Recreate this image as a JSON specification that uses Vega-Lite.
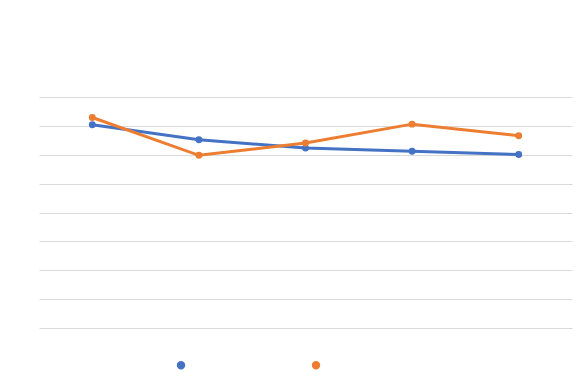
{
  "$schema": "https://vega.github.io/schema/vega-lite/v6.json",
  "width": 533,
  "height": 231,
  "padding": {"left": 39, "top": 97, "right": 14, "bottom": 57},
  "autosize": {"type": "none"},
  "background": "white",
  "config": {"view": {"stroke": null}},
  "data": {
    "values": [
      {"category": "1", "series": "Series1", "value": 7.04},
      {"category": "2", "series": "Series1", "value": 6.52},
      {"category": "3", "series": "Series1", "value": 6.23},
      {"category": "4", "series": "Series1", "value": 6.12},
      {"category": "5", "series": "Series1", "value": 6.01},
      {"category": "1", "series": "Series2", "value": 7.29},
      {"category": "2", "series": "Series2", "value": 5.98},
      {"category": "3", "series": "Series2", "value": 6.41},
      {"category": "4", "series": "Series2", "value": 7.06},
      {"category": "5", "series": "Series2", "value": 6.66}
    ]
  },
  "mark": {"type": "line", "strokeWidth": 3, "point": {"filled": true, "size": 48}},
  "encoding": {
    "x": {"field": "category", "type": "nominal", "axis": null, "scale": {"type": "point", "padding": 0.5}},
    "y": {
      "field": "value", "type": "quantitative",
      "scale": {"domain": [0, 8], "nice": false, "zero": true},
      "axis": {"values": [0,1,2,3,4,5,6,7,8], "grid": true, "gridColor": "#D9D9D9", "gridWidth": 1, "labels": false, "ticks": false, "domain": false, "title": null}
    },
    "color": {
      "field": "series", "type": "nominal",
      "scale": {"domain": ["Series1", "Series2"], "range": ["#4472C4", "#ED7D31"]},
      "legend": {"orient": "none", "legendX": 137, "legendY": 263, "direction": "horizontal", "title": null, "labelExpr": "''", "labelOffset": 0, "columnPadding": 121, "symbolType": "circle", "symbolSize": 48}
    }
  }
}
